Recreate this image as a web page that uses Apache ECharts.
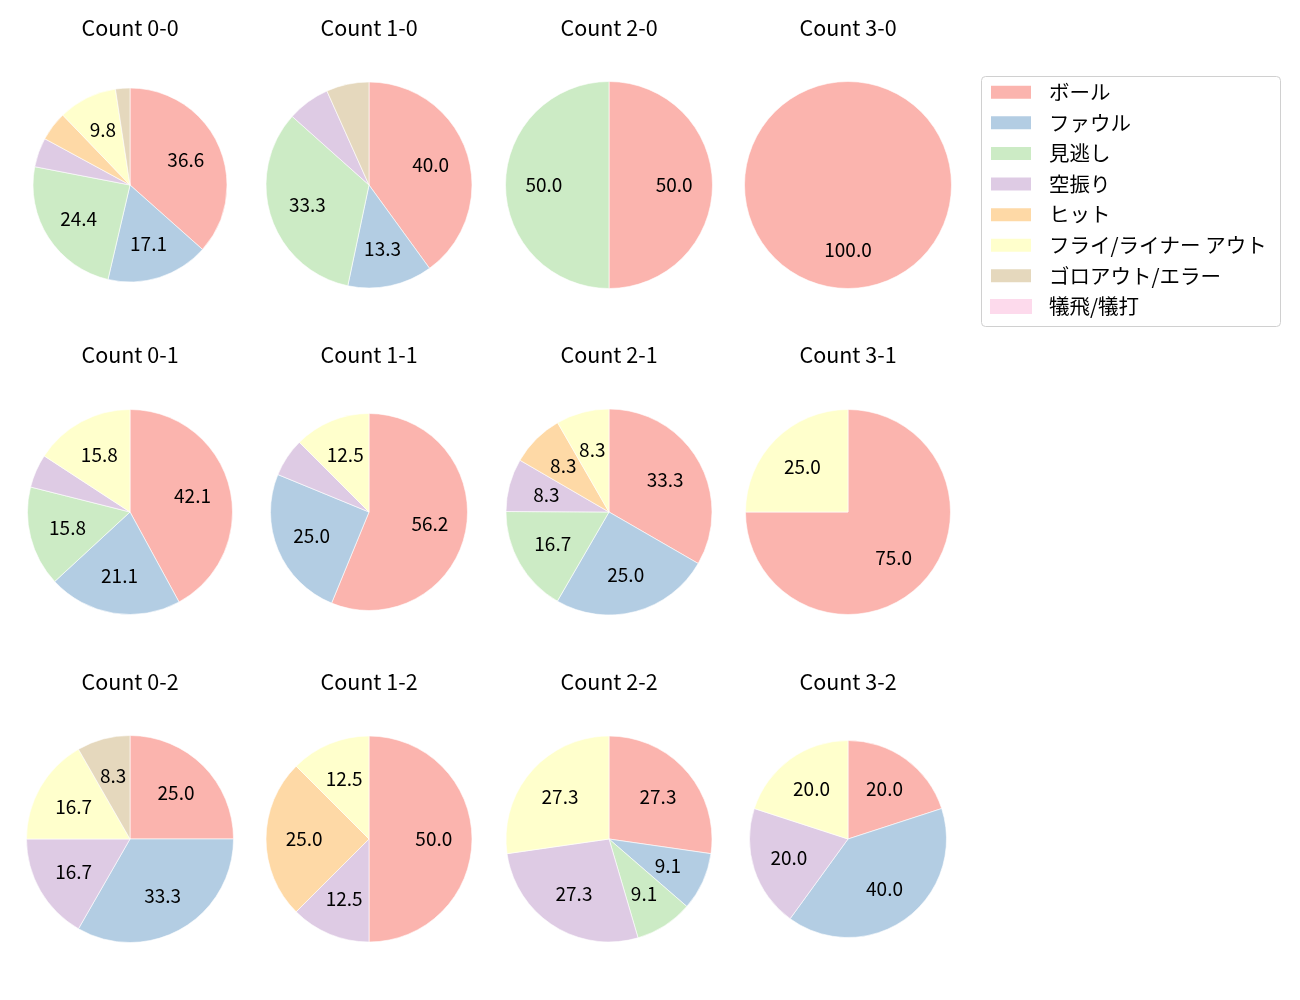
<!DOCTYPE html>
<html>
<head>
<meta charset="utf-8">
<script src="https://cdn.jsdelivr.net/npm/echarts@6/dist/echarts.min.js"></script>
<style>
  html, body { margin: 0; padding: 0; background: #fff; }
  #chart { width: 1300px; height: 1000px; }
</style>
</head>
<body>
<div id="chart"></div>
<script>
// ===== 球種カテゴリ =====
const categories = ['ボール', 'ファウル', '見逃し', '空振り', 'ヒット', 'フライ/ライナー アウト', 'ゴロアウト/エラー', '犠飛/犠打'];
const palette = ['#fbb4ae', '#b3cde3', '#ccebc5', '#decbe4', '#fed9a6', '#ffffcc', '#e5d8bd', '#fddaec'];

// ===== カウント別 割合(%) — categories と同じ並び =====
const count00 = [36.6, 17.1, 24.4, 4.9, 4.9, 9.8, 2.4, 0];
const count10 = [40.0, 13.3, 33.3, 6.7, 0, 0, 6.7, 0];
const count20 = [50.0, 0, 50.0, 0, 0, 0, 0, 0];
const count30 = [100.0, 0, 0, 0, 0, 0, 0, 0];
const count01 = [42.1, 21.1, 15.8, 5.3, 0, 15.8, 0, 0];
const count11 = [56.2, 25.0, 0, 6.3, 0, 12.5, 0, 0];
const count21 = [33.3, 25.0, 16.7, 8.3, 8.3, 8.3, 0, 0];
const count31 = [75.0, 0, 0, 0, 0, 25.0, 0, 0];
const count02 = [25.0, 33.3, 0, 16.7, 0, 16.7, 8.3, 0];
const count12 = [50.0, 0, 0, 12.5, 25.0, 12.5, 0, 0];
const count22 = [27.3, 9.1, 9.1, 27.3, 0, 27.3, 0, 0];
const count32 = [20.0, 40.0, 0, 20.0, 0, 20.0, 0, 0];

const panelTitles = ['Count 0-0', 'Count 1-0', 'Count 2-0', 'Count 3-0',
                     'Count 0-1', 'Count 1-1', 'Count 2-1', 'Count 3-1',
                     'Count 0-2', 'Count 1-2', 'Count 2-2', 'Count 3-2'];
const panelValues = [count00, count10, count20, count30,
                     count01, count11, count21, count31,
                     count02, count12, count22, count32];

// レイアウト (px)
const colX = [130, 369, 609, 848];
const rowY = [185, 512, 839];
const radii = [97, 103, 103.5, 103.5,
               102.5, 98.5, 103, 102.5,
               103.5, 103, 103, 98.5];
const FONT = '"Noto Sans CJK JP", "Noto Sans", sans-serif';

const chart = echarts.init(document.getElementById('chart'));

const graphics = [], pieSeries = [], labelSeries = [];
panelTitles.forEach((t, i) => {
    const cx = colX[i % 4], cy = rowY[Math.floor(i / 4)], r = radii[i];
    // パネルタイトル
    graphics.push({
        type: 'text', x: cx, y: cy - 157, silent: true,
        style: { text: t, fontFamily: FONT, fontSize: 21.5, fill: '#000', align: 'center', verticalAlign: 'middle' }
    });
    const vals = panelValues[i];
    // 扇形本体
    pieSeries.push({
        type: 'pie', center: [cx, cy], radius: [0, r],
        startAngle: 90, clockwise: true, animation: false,
        label: { show: false }, labelLine: { show: false },
        emphasis: { disabled: true },
        data: categories.map((n, k) => ({
            name: n, value: vals[k],
            itemStyle: { color: palette[k], borderColor: '#fff', borderWidth: vals[k] > 0 ? 0.6 : 0 }
        }))
    });
    // 数値ラベル (半径 0.6 の位置)
    labelSeries.push({
        type: 'pie', center: [cx, cy], radius: [r * 0.2, r],
        startAngle: 90, clockwise: true, animation: false, silent: true,
        itemStyle: { color: 'rgba(0,0,0,0)', borderWidth: 0 },
        labelLine: { show: false },
        label: {
            show: true, position: 'inside',
            fontFamily: FONT, fontSize: 19, color: '#000',
            formatter: p => p.value >= 7.5 ? p.value.toFixed(1) : ''
        },
        data: categories.map((n, k) => ({ name: n, value: vals[k] }))
    });
});

// 凡例の枠
graphics.push({
    type: 'rect', silent: true,
    shape: { x: 981.5, y: 76.5, width: 299, height: 250, r: 4 },
    style: { fill: 'none', stroke: '#d0d0d0', lineWidth: 1 }
});

chart.setOption({
    backgroundColor: '#fff',
    legend: {
        orient: 'vertical', left: 984, top: 77,
        itemWidth: 42, itemHeight: 15, itemGap: 10.1,
        icon: 'rect', selectedMode: false,
        data: categories,
        textStyle: { fontFamily: FONT, fontSize: 20.5, color: '#000', padding: [0, 0, 0, 12] }
    },
    graphic: graphics,
    series: pieSeries.concat(labelSeries)
});
</script>
</body>
</html>
